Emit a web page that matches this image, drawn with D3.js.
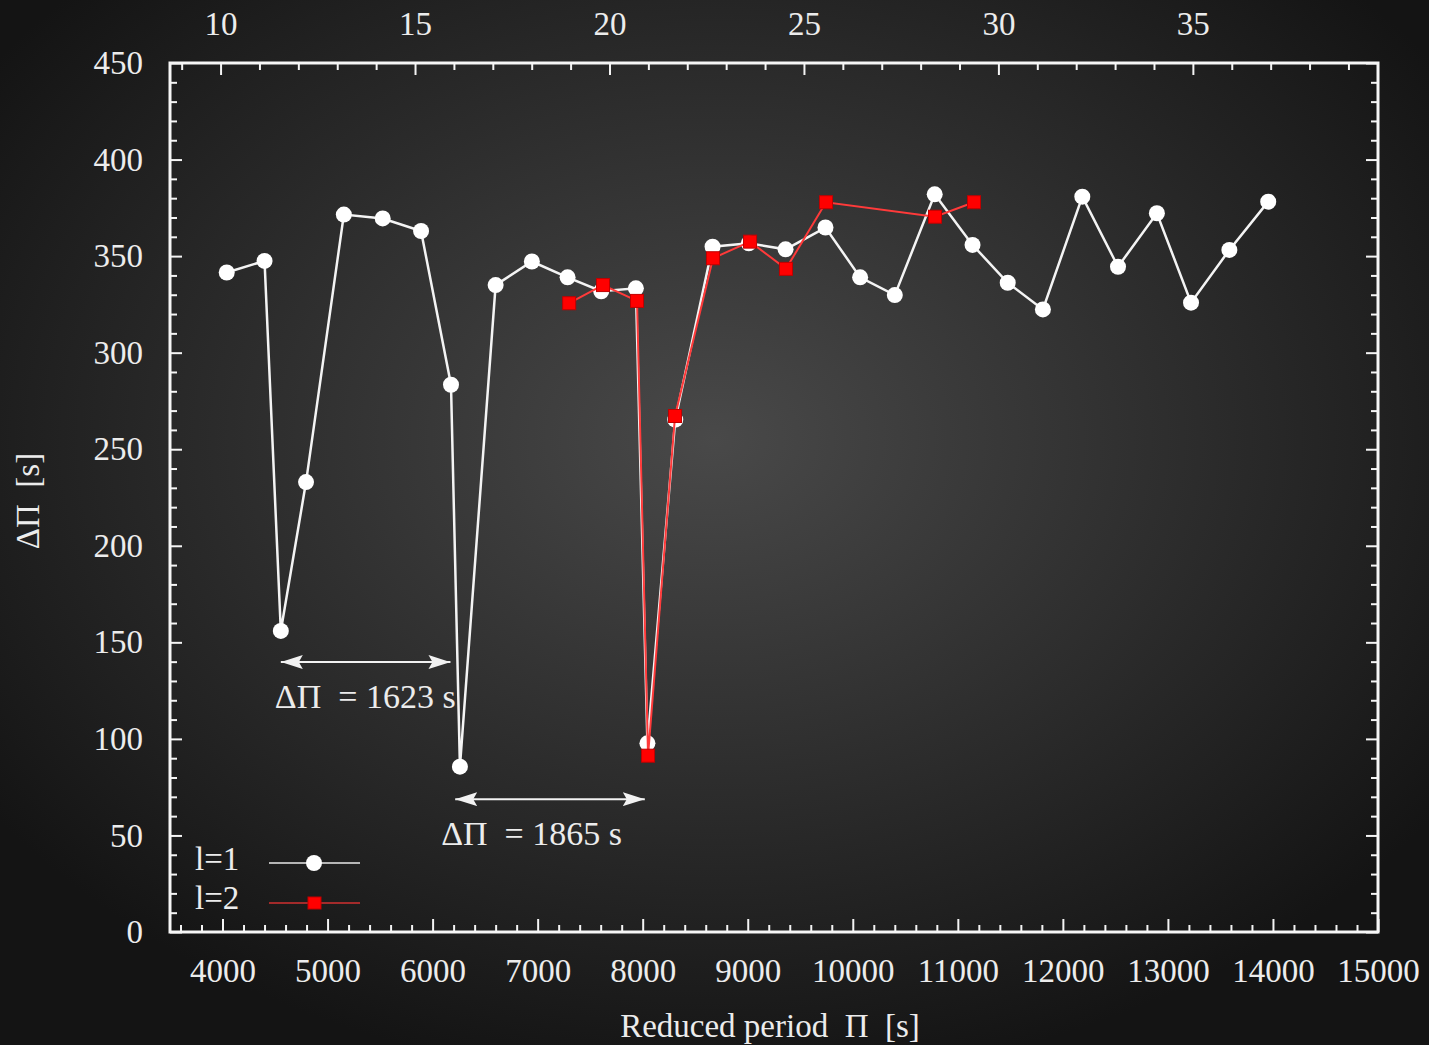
<!DOCTYPE html>
<html>
<head>
<meta charset="utf-8">
<script src="https://cdn.jsdelivr.net/npm/d3@7"></script>
<style>
  html, body { margin: 0; padding: 0; background: #1a1a1a; }
  svg text { font-family: "Liberation Serif", "DejaVu Serif", serif; fill: #ececec; white-space: pre; }
</style>
</head>
<body>
<svg id="chart" width="1429" height="1045"></svg>
<script>
// l=1 modes (period [s], period spacing [s])
var l1Period = [4040, 4400, 4555, 4795, 5155, 5525, 5890, 6175, 6260, 6600, 6945, 7285, 7605, 7935, 8045, 8310,
                8665, 9010, 9360, 9740, 10070, 10400, 10780, 11140, 11475, 11810, 12185, 12525, 12895, 13220, 13585, 13955];
var l1Spacing = [341.5, 347.5, 155.9, 233, 371.5, 369.5, 363, 283.4, 85.6, 335, 347.2, 339, 331.8, 333.3, 97.7, 265.3,
                 354.9, 356.6, 353.5, 364.8, 339, 329.8, 382, 355.8, 336.2, 322.4, 380.8, 344.5, 372.2, 325.9, 353.2, 378.2];

// l=2 modes
var l2Period = [7300, 7622, 7946, 8051, 8308, 8669, 9022, 9364, 9745, 10783, 11154];
var l2Spacing = [325.6, 335, 326.8, 91.3, 267.2, 348.9, 357.5, 343.4, 377.9, 370.4, 377.9];

// axis ticks
var xTicks = [4000, 5000, 6000, 7000, 8000, 9000, 10000, 11000, 12000, 13000, 14000, 15000];
var yTicks = [0, 50, 100, 150, 200, 250, 300, 350, 400, 450];
var kTicks = [10, 15, 20, 25, 30, 35];

// annotations: [from, to, height, label]
var gaps = [
    [4555, 6170, 139.8, "ΔΠ  = 1623 s"],
    [6215, 8020, 68.8, "ΔΠ  = 1865 s"]
];

var svg = d3.select("#chart");
var plotLeft = 170, plotRight = 1378, plotTop = 63, plotBottom = 932;
var fontSize = 33;

// background
var defs = svg.append("defs");
var grad = defs.append("radialGradient").attr("id", "bg")
    .attr("cx", "50%").attr("cy", "42%").attr("r", "62%");
grad.append("stop").attr("offset", "0%").attr("stop-color", "#494949");
grad.append("stop").attr("offset", "100%").attr("stop-color", "#141414");
svg.append("rect").attr("width", 1429).attr("height", 1045).attr("fill", "url(#bg)");

defs.append("marker").attr("id", "head")
    .attr("viewBox", "0 0 22 14").attr("refX", 22).attr("refY", 7)
    .attr("markerWidth", 22).attr("markerHeight", 14)
    .attr("markerUnits", "userSpaceOnUse").attr("orient", "auto-start-reverse")
    .append("path").attr("d", "M0,0 L22,7 L0,14 L4,7 Z").attr("fill", "#f2f2f2");

var x = d3.scaleLinear().domain([3500, 15000]).range([plotLeft, plotRight]);
var x2 = d3.scaleLinear().domain([8.70, 39.76]).range([plotLeft, plotRight]);
var y = d3.scaleLinear().domain([0, 450]).range([plotBottom, plotTop]);

function styleAxis(g) {
    g.select(".domain").remove();
    g.selectAll("line").attr("stroke", "#f4f4f4").attr("stroke-width", 2);
    g.selectAll("text").attr("font-size", fontSize).attr("fill", "#ececec")
        .attr("font-family", '"Liberation Serif", serif');
}

var xMinor = d3.range(3600, 15000, 200).filter(function(d) { return d % 1000 != 0; });
var yMinor = d3.range(10, 450, 10).filter(function(d) { return d % 50 != 0; });
var kMinor = d3.range(9, 40, 1).filter(function(d) { return d % 5 != 0; });

// bottom
svg.append("g").attr("transform", "translate(0," + plotBottom + ")")
    .call(d3.axisBottom(x).tickValues(xMinor).tickSize(-7).tickFormat("")).call(styleAxis);
svg.append("g").attr("transform", "translate(0," + plotBottom + ")")
    .call(d3.axisBottom(x).tickValues(xTicks).tickSize(-13).tickPadding(27).tickFormat(d3.format("d")))
    .call(styleAxis);
// top
svg.append("g").attr("transform", "translate(0," + plotTop + ")")
    .call(d3.axisTop(x2).tickValues(kMinor).tickSize(-7).tickFormat("")).call(styleAxis);
svg.append("g").attr("transform", "translate(0," + plotTop + ")")
    .call(d3.axisTop(x2).tickValues(kTicks).tickSize(-12).tickPadding(28)).call(styleAxis);
// left
svg.append("g").attr("transform", "translate(" + plotLeft + ",0)")
    .call(d3.axisLeft(y).tickValues(yMinor).tickSize(-7).tickFormat("")).call(styleAxis);
svg.append("g").attr("transform", "translate(" + plotLeft + ",0)")
    .call(d3.axisLeft(y).tickValues(yTicks).tickSize(-12).tickPadding(27)).call(styleAxis);
// right
svg.append("g").attr("transform", "translate(" + plotRight + ",0)")
    .call(d3.axisRight(y).tickValues(yMinor).tickSize(-7).tickFormat("")).call(styleAxis);
svg.append("g").attr("transform", "translate(" + plotRight + ",0)")
    .call(d3.axisRight(y).tickValues(yTicks).tickSize(-12).tickFormat("")).call(styleAxis);

// frame
svg.append("rect").attr("x", plotLeft).attr("y", plotTop)
    .attr("width", plotRight - plotLeft).attr("height", plotBottom - plotTop)
    .attr("fill", "none").attr("stroke", "#f6f6f6").attr("stroke-width", 3);

// axis titles
svg.append("text").attr("x", (plotLeft + plotRight) / 2 - 4).attr("y", 1037)
    .attr("text-anchor", "middle").attr("font-size", fontSize).text("Reduced period  Π  [s]");
svg.append("text").attr("transform", "translate(39,501) rotate(-90)")
    .attr("text-anchor", "middle").attr("font-size", fontSize).text("ΔΠ  [s]");

// annotations
gaps.forEach(function(a, i) {
    svg.append("line")
        .attr("x1", x(a[0])).attr("x2", x(a[1])).attr("y1", y(a[2])).attr("y2", y(a[2]))
        .attr("stroke", "#f2f2f2").attr("stroke-width", 2)
        .attr("marker-start", "url(#head)").attr("marker-end", "url(#head)");
    svg.append("text").attr("x", x(a[0]) - 6 - i * 8).attr("y", y(a[2]) + 46)
        .attr("font-size", fontSize + 1).text(a[3]);
});

var l1 = l1Period.map(function(d, i) { return [d, l1Spacing[i]]; });
var l2 = l2Period.map(function(d, i) { return [d, l2Spacing[i]]; });
var line = d3.line().x(function(d) { return x(d[0]); }).y(function(d) { return y(d[1]); });

svg.append("path").datum(l1).attr("d", line)
    .attr("fill", "none").attr("stroke", "#f4f4f4").attr("stroke-width", 2.5);
svg.append("g").selectAll("circle").data(l1).enter().append("circle")
    .attr("cx", function(d) { return x(d[0]); })
    .attr("cy", function(d) { return y(d[1]); })
    .attr("r", 8).attr("fill", "#ffffff");

svg.append("path").datum(l2).attr("d", line)
    .attr("fill", "none").attr("stroke", "#ff3a3a").attr("stroke-width", 2);
svg.append("g").selectAll("rect").data(l2).enter().append("rect")
    .attr("x", function(d) { return x(d[0]) - 6.5; })
    .attr("y", function(d) { return y(d[1]) - 6.5; })
    .attr("width", 13).attr("height", 13)
    .attr("fill", "#ff0000").attr("stroke", "#c00000").attr("stroke-width", 1);

// legend
var legend = svg.append("g");
legend.append("text").attr("x", 195).attr("y", 870).attr("font-size", fontSize).text("l=1");
legend.append("line").attr("x1", 269).attr("x2", 360).attr("y1", 863).attr("y2", 863)
    .attr("stroke", "#e8e8e8").attr("stroke-width", 1.5);
legend.append("circle").attr("cx", 314).attr("cy", 863).attr("r", 8).attr("fill", "#ffffff");
legend.append("text").attr("x", 195).attr("y", 909).attr("font-size", fontSize).text("l=2");
legend.append("line").attr("x1", 269).attr("x2", 360).attr("y1", 903).attr("y2", 903)
    .attr("stroke", "#d03030").attr("stroke-width", 1.5);
legend.append("rect").attr("x", 308).attr("y", 897).attr("width", 13).attr("height", 12)
    .attr("fill", "#ff0000").attr("stroke", "#c00000").attr("stroke-width", 1);
</script>
</body>
</html>
